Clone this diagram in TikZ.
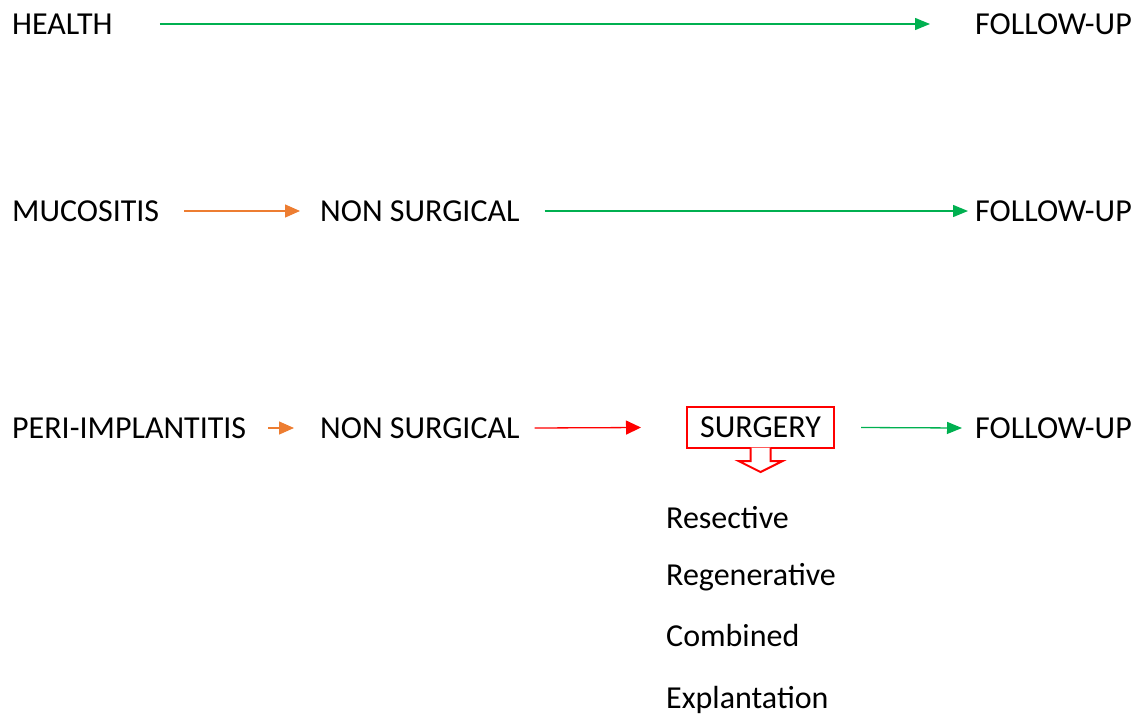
\documentclass[tikz,border=0pt]{standalone}
\usepackage{fontspec}
\setmainfont{Carlito}
\usetikzlibrary{arrows.meta,calc}
\definecolor{lgreen}{RGB}{0,176,80}
\definecolor{lorange}{RGB}{237,125,49}
\definecolor{lred}{RGB}{255,0,0}
\begin{document}
\begin{tikzpicture}[x=1pt,y=-1pt,
  lbl/.style={anchor=west,inner sep=0pt,font=\fontsize{32}{38}\selectfont},
  itm/.style={anchor=base west,inner sep=0pt,font=\fontsize{32}{38}\selectfont},
  surgbox/.style={draw=lred,line width=2pt,minimum width=147pt,minimum height=41pt,inner sep=0pt,font=\fontsize{32}{38}\selectfont},
  garrow/.style={draw=lgreen,line width=1.3pt,-{Triangle[length=15pt,width=12pt]}},
  oarrow/.style={draw=lorange,line width=1.3pt,-{Triangle[length=15pt,width=13pt]}},
  rarrow/.style={draw=lred,line width=1.3pt,-{Triangle[length=15pt,width=14pt]}}]
\useasboundingbox (0,0) rectangle (1142,720);
% row 1
\node[lbl] (health) at (12,24) {HEALTH};
\node[lbl] (fu1) at (975,24) {FOLLOW-UP};
\draw[garrow] ([xshift=47]health.east) -- ([xshift=-45]fu1.west);
% row 2
\node[lbl] (muc) at (12,211) {MUCOSITIS};
\node[lbl] (ns1) at (320,211) {NON SURGICAL};
\node[lbl] (fu2) at (975,211) {FOLLOW-UP};
\draw[oarrow] ([xshift=25]muc.east) -- ([xshift=-20]ns1.west);
\draw[garrow] ([xshift=25]ns1.east) -- ([xshift=-7]fu2.west);
% row 3
\node[lbl] (peri) at (12,428) {PERI-IMPLANTITIS};
\node[lbl] (ns2) at (320,428) {NON SURGICAL};
\node[surgbox] (surg) at (760.5,427.5) {SURGERY};
\node[lbl] (fu3) at (975,428) {FOLLOW-UP};
\draw[oarrow] ([xshift=22]peri.east) -- ([xshift=-26]ns2.west);
\draw[rarrow] ([xshift=15]ns2.east) -- ([xshift=-45]surg.west);
\draw[garrow] ([xshift=26]surg.east) -- ([xshift=-13]fu3.west);
% callout pointer
\draw[lred,line width=2pt,fill=white,line join=miter]
  ($(surg.south)+(-10,-1.5)$) -- ++(0,13.5) -- ++(-12,0) -- ++(22,11) -- ++(22,-11) -- ++(-12,0) -- ++(0,-13.5);
% list
\node[itm] (res) at (666,528) {Resective};
\node[itm] (reg) at (666,585) {Regenerative};
\node[itm] (com) at (666,646) {Combined};
\node[itm] (exp) at (666,708) {Explantation};
\end{tikzpicture}
\end{document}
